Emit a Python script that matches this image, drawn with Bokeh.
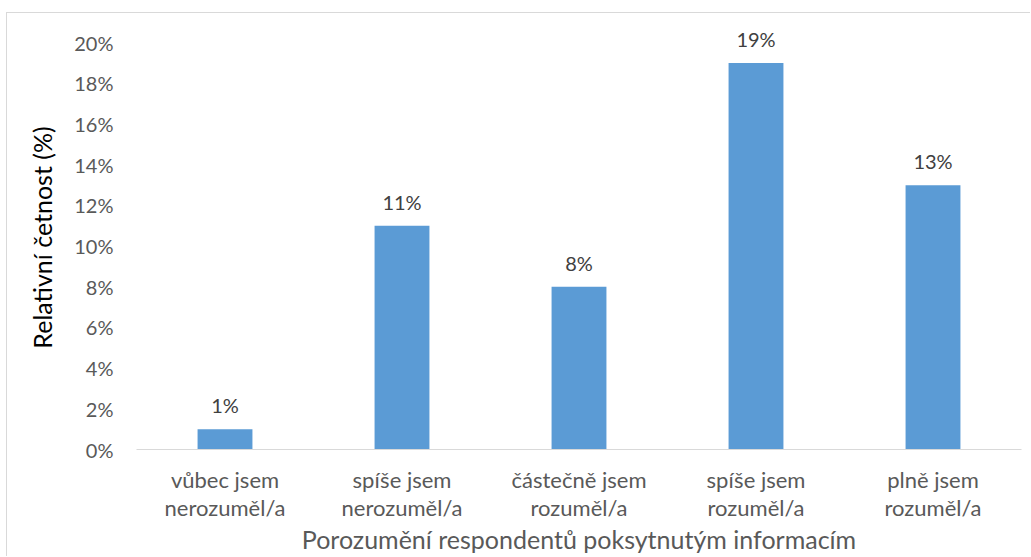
from bokeh.plotting import figure
from bokeh.models import ColumnDataSource, FixedTicker, PrintfTickFormatter, FactorRange
from bokeh.core.properties import value
from bokeh.embed import file_html
from bokeh.resources import INLINE

# Survey answers (x categories) and their relative frequency in percent
categories = [
    "vůbec jsem\nnerozuměl/a",
    "spíše jsem\nnerozuměl/a",
    "částečně jsem\nrozuměl/a",
    "spíše jsem\nrozuměl/a",
    "plně jsem\nrozuměl/a",
]
shares = [1, 11, 8, 19, 13]
y_ticks = [0, 2, 4, 6, 8, 10, 12, 14, 16, 18, 20]

FONT = "Lato"
GREY = "#595959"

src = ColumnDataSource(dict(
    cat=categories,
    val=shares,
    label=[f"{v}%" for v in shares],
))

p = figure(
    x_range=FactorRange(*categories),
    y_range=(0, 20.85),
    width=1024,
    height=544,
    output_backend="svg",
    toolbar_location=None,
    min_border_left=129,
    min_border_right=10,
    min_border_top=12,
    min_border_bottom=108,
)
p.styles = {
    "margin-left": "6px",
    "margin-top": "12px",
    "border-left": "1px solid #d9d9d9",
    "border-top": "1px solid #d9d9d9",
}

p.vbar(x="cat", top="val", width=0.31, source=src,
       fill_color="#5b9bd5", line_color=None)

p.text(x="cat", y="val", text="label", source=src,
       text_align="center", text_baseline="middle", y_offset=-24,
       text_font=value(FONT), text_font_size="20px", text_color="#404040")

p.outline_line_color = None
p.xgrid.grid_line_color = None
p.ygrid.grid_line_color = None

# y axis: percent ticks, no line, no ticks
p.yaxis.ticker = FixedTicker(ticks=y_ticks)
p.yaxis.formatter = PrintfTickFormatter(format="%d%%")
p.yaxis.axis_line_color = None
p.yaxis.major_tick_line_color = None
p.yaxis.minor_tick_line_color = None
p.yaxis.major_label_standoff = 17
p.yaxis.major_label_text_font = FONT
p.yaxis.major_label_text_font_size = "20px"
p.yaxis.major_label_text_color = GREY
p.yaxis.axis_label = "Relativní četnost (%)"
p.yaxis.axis_label_text_font = FONT
p.yaxis.axis_label_text_font_size = "25px"
p.yaxis.axis_label_text_font_style = "normal"
p.yaxis.axis_label_text_color = "#000000"
p.yaxis.axis_label_standoff = 14

# x axis: thin light baseline, two-line category labels
p.xaxis.axis_line_color = "#d9d9d9"
p.xaxis.axis_line_width = 1
p.xaxis.major_tick_line_color = None
p.xaxis.minor_tick_line_color = None
p.xaxis.major_label_standoff = 10
p.xaxis.major_label_text_font = FONT
p.xaxis.major_label_text_font_size = "22px"
p.xaxis.major_label_text_color = GREY
p.xaxis.major_label_text_line_height = 1.06
p.xaxis.axis_label = "Porozumění respondentů poksytnutým informacím"
p.xaxis.axis_label_text_font = FONT
p.xaxis.axis_label_text_font_size = "25px"
p.xaxis.axis_label_text_font_style = "normal"
p.xaxis.axis_label_text_color = GREY
p.xaxis.axis_label_standoff = 0

open("out.html", "w").write(file_html(p, INLINE))
